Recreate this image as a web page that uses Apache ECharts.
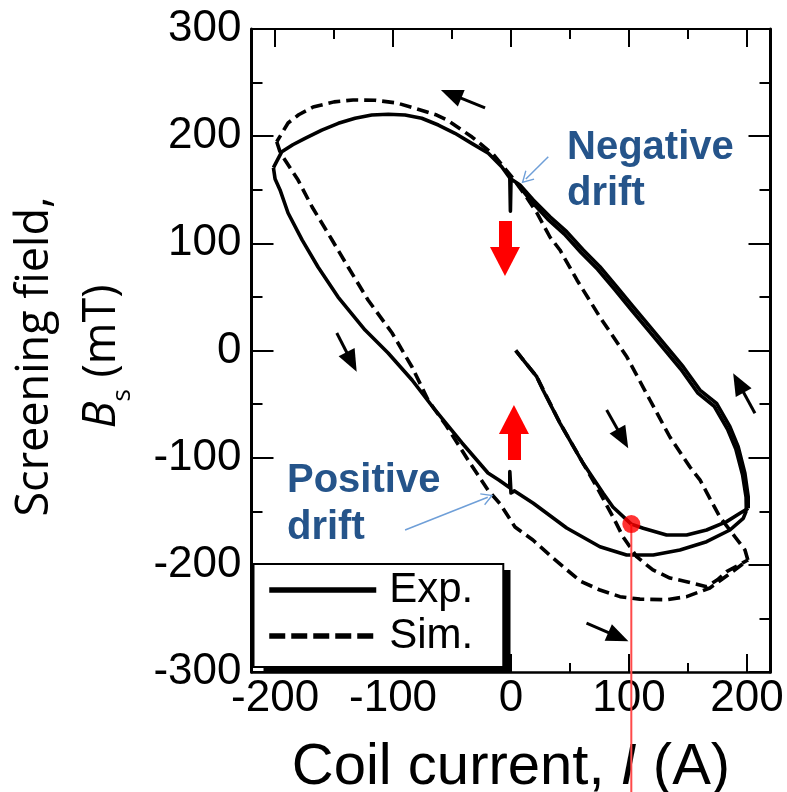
<!DOCTYPE html>
<html>
<head>
<meta charset="utf-8">
<script src="https://cdn.jsdelivr.net/npm/echarts@6/dist/echarts.min.js"></script>
<style>
  html, body { margin: 0; padding: 0; background: #fff; }
  #chart { width: 787px; height: 792px; }
</style>
</head>
<body>
<div id="chart"></div>
<script>
// Axis ticks (coil current in A, screening field in mT)
const xMajorTicks = [-200, -100, 0, 100, 200];
const xMinorTicks = [-150, -50, 50, 150];

// Experiment: initial ramp 0 -> 200 A
const expVirgin = [[4, 0], [12, -11], [21.8, -24.4], [27.1, -36.9], [41.5, -67.7], [61, -105], [78, -133],
  [86.4, -146], [102, -162], [112.1, -165.9], [131.9, -172.2], [148.9, -172.2], [165.8, -167.5],
  [182.8, -159.7], [194.1, -151.9], [201.1, -147.2]];

// Experiment: ramp 200 -> -200 A, with the hold at 0 A (negative drift)
const expDown1 = [[201.1, -147.2], [201.1, -136.4], [198.3, -114.6], [192.6, -89.8], [185.6, -71.1],
  [174.3, -49.3], [160.2, -36.9], [146, -15.1], [131.9, 3.5], [117.8, 22.2], [103.6, 40.9], [89.6, 59.5],
  [75.4, 78.2], [61.3, 93.8], [47.2, 110.9], [33.1, 124.8], [18.9, 140.4], [7.6, 154.4], [0, 160],
  [-0.5, 130], [-1, 161], [-2.3, 162.2], [-7.9, 171.5], [-19.2, 184], [-33.3, 193.3], [-47.5, 202.7],
  [-61.6, 210.4], [-75.7, 216.7], [-89.8, 219.7], [-104, 220.4], [-118.1, 219.7], [-132.2, 216.7],
  [-146.4, 212], [-160.4, 205.7], [-174.6, 198], [-185, 192], [-194.3, 185.5], [-201.4, 170.6]];

// Experiment: ramp -200 -> 200 A, with the hold at 0 A (positive drift)
const expUp = [[-201.4, 170.6], [-200, 160], [-195.8, 149.8], [-189, 128.3], [-177, 103], [-163.6, 77.9],
  [-146.6, 49.9], [-123.7, 19.1], [-104.2, -2.3], [-83.9, -27.5], [-64.4, -55.5], [-41.5, -86.3],
  [-19.5, -114.3], [-10, -121], [-1, -128], [-1, -113], [0, -133], [3, -131], [18.9, -142.6],
  [47.2, -165.6], [75.4, -183.1], [98, -190.8], [120.6, -190.8], [143.2, -186.2], [165.8, -178.4],
  [185.6, -167.5], [196.9, -156.6], [199.5, -149.5]];

// Experiment: second ramp down from 200 A
const expDown2 = [[199.5, -149.5], [199.3, -137], [196.3, -116], [190.6, -92], [183.6, -73.5],
  [172.3, -52], [158.2, -39.5], [144, -17.5], [129.9, 1], [115.8, 19.8], [101.6, 38.5], [87.6, 57.2],
  [73.4, 75.8], [59.3, 91.5], [45.2, 108.6], [31.1, 122.6], [17.4, 139], [8, 152]];

// Simulation branches
const simVirgin = [[4, 0], [21.8, -24.4], [41.5, -67.7], [61, -105], [72, -126], [86.4, -155.1],
  [94.9, -173.7], [106.5, -192.4], [120.3, -204.8], [134.7, -212.3], [148.9, -215.7], [165.8, -220.4],
  [175, -214], [182.8, -206.4], [200.8, -195.5]];

const simDown = [[200.8, -195.5], [198.3, -186], [190, -174], [177.1, -155.4], [160.2, -120.8],
  [151.7, -108.7], [134.7, -80.7], [117.8, -46.2], [98.3, -6.1], [75.4, 31.2], [55.9, 65.8], [41.5, 93.8],
  [33, 105.9], [22, 128.3], [11.9, 145.1], [0, 163], [-15, 183], [-33, 199.2], [-53.4, 214.6],
  [-63, 219.7], [-75.4, 224], [-96.9, 231], [-115, 233.5], [-133.9, 233.8], [-150, 232], [-167.8, 227.2],
  [-180, 220], [-189, 212.3], [-198.6, 194.8]];

const simUp = [[-198.6, 194.8], [-196, 186], [-193.2, 180.5], [-180.5, 159], [-168.6, 133.9],
  [-151.7, 103.1], [-138.1, 77.9], [-121.2, 47.1], [-100.8, 16.3], [-83.9, -15.4], [-70.3, -46.2],
  [-55, -70], [-36.4, -102.2], [-19.5, -130.2], [-9.3, -143], [3.4, -164.7], [18.6, -176.8],
  [35, -193], [47.5, -204.8], [58.5, -215], [75.4, -223.5], [92.4, -229.7], [109.3, -232],
  [131.9, -232.5], [148.9, -229.7], [168.6, -221.6], [183.9, -209.5], [200.8, -195.5]];

// Marked operating point and its guide down to the current axis
const markPoint = [[102, -162]];
const markGuide = [[102, -162], [102, -420]];

// Sweep-direction arrows: [tail, head]
const sweepArrows = [
  [[-22, 226.3], [-50.8, 239.3]],
  [[-147.7, 16.3], [-135.1, -10.7]],
  [[81.1, -55.5], [94.8, -82.3]],
  [[206.8, -58.6], [192.8, -30.3]],
  [[64, -254.3], [91, -267.3]]
];
// Drift-direction arrows (red): [tail, head]
const driftArrows = [
  [[-5.1, 120.8], [-5.1, 83]],
  [[2.5, -102.2], [2.5, -64.4]]
];
// Callout pointers: [tail, head]
const calloutArrows = [
  [[31.6, 180.8], [12.6, 160.1]],
  [[-89.8, -167.5], [-19.7, -136.9]]
];

const ARIAL = '"Liberation Sans", Arial, sans-serif';
const SANS = '"Open Sans", sans-serif';
const BLUE = '#25548a';

function curve(name, data, dashed) {
  return {
    type: 'line', name: name, data: data, symbol: 'none', showSymbol: false,
    xAxisIndex: 0, yAxisIndex: 0, z: 3, silent: true, animation: false,
    lineStyle: { color: '#000', width: 3.6, type: dashed ? [12, 6] : 'solid', cap: 'butt', join: 'round' }
  };
}
function arrows(data, color, width, headSize, head) {
  return {
    type: 'lines', coordinateSystem: 'cartesian2d', xAxisIndex: 0, yAxisIndex: 0,
    silent: true, animation: false, z: 6,
    symbol: ['none', head], symbolSize: [1, headSize],
    lineStyle: { color: color, width: width, opacity: 1, curveness: 0 },
    data: data.map(p => ({ coords: p }))
  };
}

const chart = echarts.init(document.getElementById('chart'), null, { renderer: 'canvas' });

const tickStyle = { color: '#000', width: 2 };
const axisX = (pos, ticks, len, showLine, lineW, extra) => Object.assign({
  type: 'value', position: pos, min: -220, max: 220,
  axisLine: { show: showLine, onZero: false, lineStyle: { color: '#000', width: lineW } },
  axisTick: { show: true, inside: true, length: len, customValues: ticks, lineStyle: tickStyle },
  axisLabel: { show: false },
  splitLine: { show: false }
}, extra || {});

const textStyle = (t, x, y) => ({
  type: 'text', x: x, y: y, z: 10,
  style: { text: t, font: 'bold 40px ' + ARIAL, fill: BLUE, textAlign: 'left', textVerticalAlign: 'middle', align: 'left', verticalAlign: 'middle' }
});

chart.setOption({
  animation: false,
  backgroundColor: '#fff',
  grid: { left: 251.5, right: 16.5, top: 29, bottom: 120, containLabel: false, outerBoundsMode: 'none' },
  xAxis: [
    axisX('bottom', xMajorTicks, 18, true, 2.5, {
      axisLabel: {
        show: true, customValues: xMajorTicks, fontSize: 44, color: '#000', fontFamily: ARIAL, margin: 5
      },
      name: '{a|Coil current, }{i|I}{a| (A)}',
      nameLocation: 'middle', nameGap: 67,
      nameTextStyle: {
        fontSize: 58, fontFamily: ARIAL, color: '#000',
        rich: {
          a: { fontSize: 58, fontFamily: ARIAL, color: '#000' },
          i: { fontSize: 58, fontFamily: ARIAL, color: '#000', fontStyle: 'italic' }
        }
      }
    }),
    axisX('bottom', xMinorTicks, 9, false, 1),
    axisX('top', xMajorTicks, 18, true, 2),
    axisX('top', xMinorTicks, 10, false, 1)
  ],
  yAxis: [
    {
      type: 'value', position: 'left', min: -300, max: 300, interval: 100,
      axisLine: { show: true, onZero: false, lineStyle: { color: '#000', width: 3 } },
      axisTick: { show: true, inside: true, length: 22, lineStyle: tickStyle },
      minorTick: { show: true, splitNumber: 2, length: 11, lineStyle: tickStyle },
      axisLabel: { fontSize: 44, color: '#000', fontFamily: ARIAL, margin: 10 },
      splitLine: { show: false }, minorSplitLine: { show: false },
      name: '{a|Screening field,}\n{b|B}{s|s}{a| (mT)}',
      nameLocation: 'middle', nameRotate: 90, nameGap: 116,
      nameTextStyle: {
        fontFamily: SANS, fontSize: 45, color: '#000', lineHeight: 67, align: 'center',
        padding: [0, 12, 0, 0],
        rich: {
          a: { fontFamily: SANS, fontSize: 45, color: '#000', lineHeight: 67 },
          b: { fontFamily: SANS, fontSize: 45, color: '#000', lineHeight: 67, fontStyle: 'italic' },
          s: { fontFamily: SANS, fontSize: 26, color: '#000', lineHeight: 22, verticalAlign: 'bottom' }
        }
      }
    },
    {
      type: 'value', position: 'right', min: -300, max: 300, interval: 100,
      axisLine: { show: true, onZero: false, lineStyle: { color: '#000', width: 3 } },
      axisTick: { show: true, inside: true, length: 22, lineStyle: tickStyle },
      minorTick: { show: true, splitNumber: 2, length: 11, lineStyle: tickStyle },
      axisLabel: { show: false },
      splitLine: { show: false }, minorSplitLine: { show: false }
    }
  ],
  legend: {
    data: [{ name: 'Exp.' }, { name: 'Sim.', lineStyle: { type: [16, 6] } }],
    orient: 'vertical', left: 253.5, top: 564, z: 8,
    itemWidth: 107, itemHeight: 14, itemGap: 0,
    padding: [3, 30, 8, 13],
    backgroundColor: '#fff', borderColor: '#000', borderWidth: 2,
    selectedMode: false,
    itemStyle: { opacity: 0 },
    lineStyle: { width: 5.5 },
    textStyle: { fontSize: 42, lineHeight: 46, color: '#000', fontFamily: ARIAL, padding: [0, 0, 0, 8] }
  },
  series: [
    curve('Exp.', expVirgin, false),
    curve('Exp.', expDown1, false),
    curve('Exp.', expUp, false),
    curve('Exp.', expDown2, false),
    curve('Sim.', simVirgin, true),
    curve('Sim.', simDown, true),
    curve('Sim.', simUp, true),
    {
      type: 'line', data: markGuide, symbol: 'none', clip: false, silent: true, z: 7,
      lineStyle: { color: '#ff4a4a', width: 2 }
    },
    {
      type: 'scatter', data: markPoint, symbol: 'circle', symbolSize: 18, silent: true, z: 8,
      itemStyle: { color: '#ff0000' }
    },
    arrows(sweepArrows, '#000', 3, [18, 22], 'triangle'),
    arrows(driftArrows, '#ff0000', 13, [30, 29], 'triangle'),
    arrows(calloutArrows, '#6f9fd8', 1.5, [13, 12], 'path://M0,0L7,12L5.6,12.6L0,3L-5.6,12.6L-7,12Z')
  ],
  graphic: [
    // drop shadow behind the legend box
    { type: 'rect', z: 1, shape: { x: 263.5, y: 570, width: 247, height: 103 }, style: { fill: '#000' } },
    textStyle('Negative', 567, 148),
    textStyle('drift', 567, 194.4),
    textStyle('Positive', 287, 481),
    textStyle('drift', 287, 527.8)
  ]
});
</script>
</body>
</html>
